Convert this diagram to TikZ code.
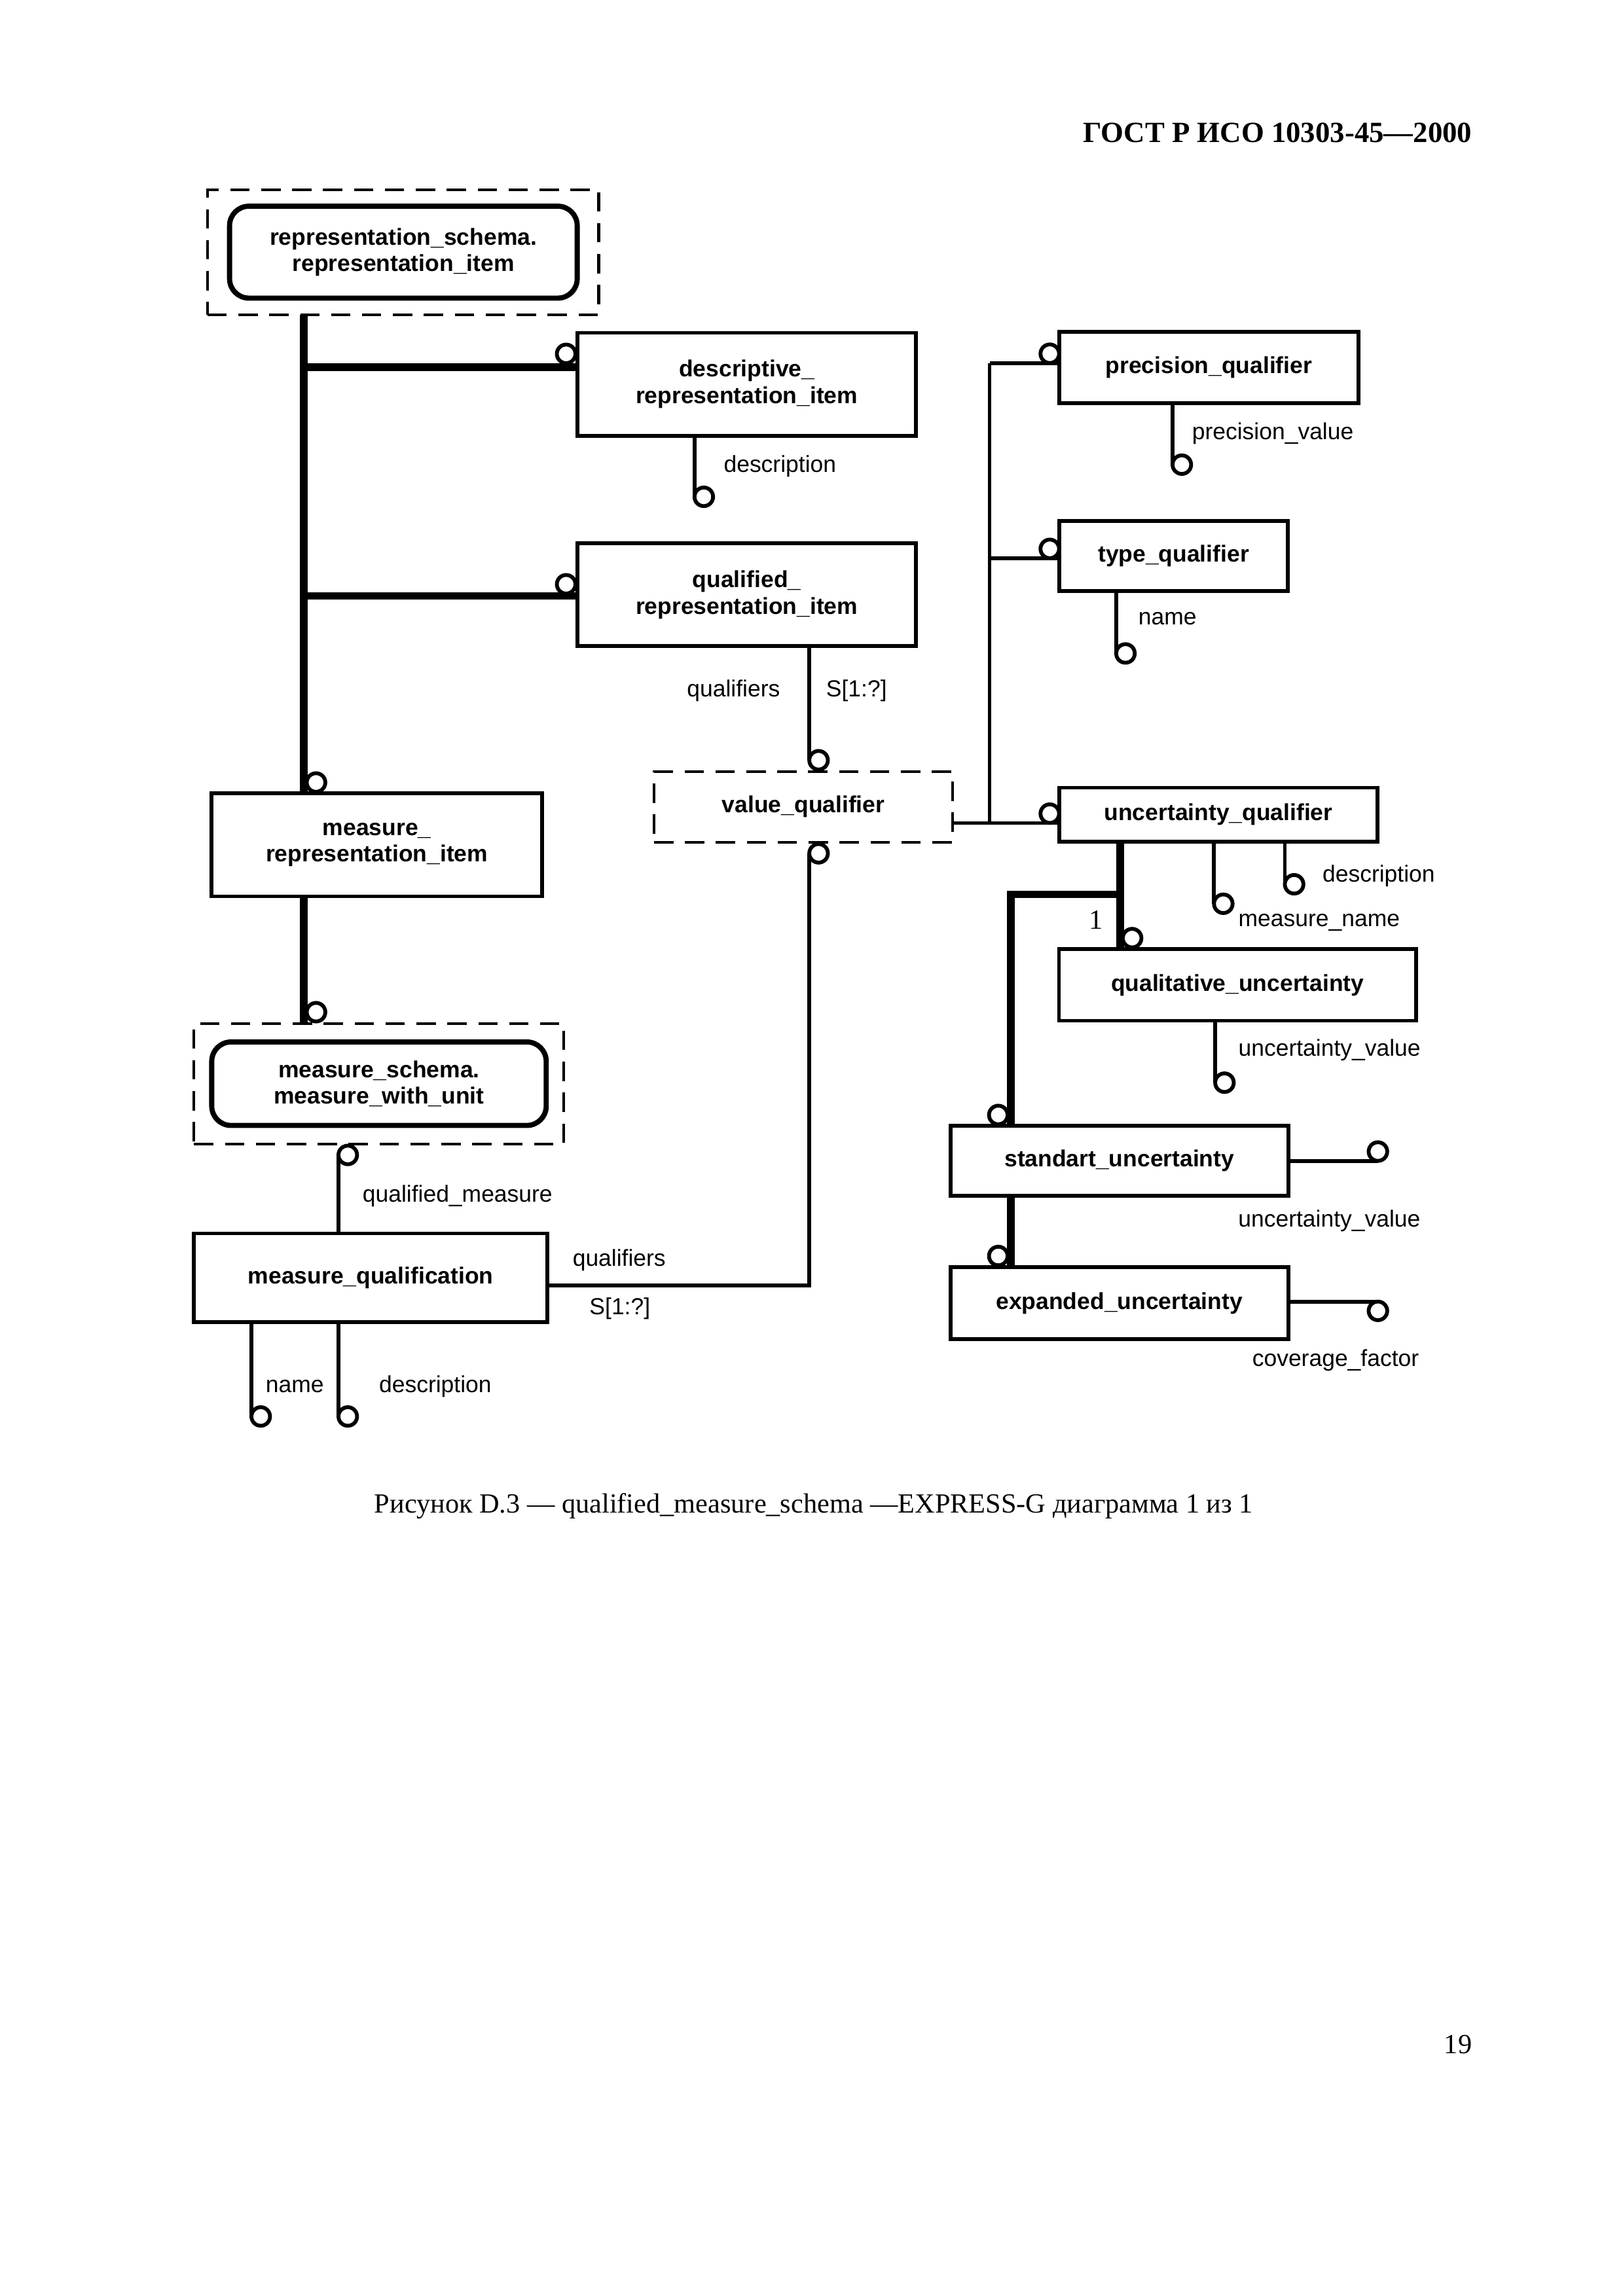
\documentclass[tikz,border=0pt]{standalone}
\usepackage{fontspec}
\setmainfont{Liberation Serif}
\newfontfamily\arialf{Liberation Sans}
\newlength\ulen
\setlength\ulen{0.190909mm}
\begin{document}
\begin{tikzpicture}[x=0.190909mm,y=-0.190909mm,
  ent/.style={draw, line width=1.4pt, inner sep=0pt, outer sep=0pt, align=center,
    font=\arialf\bfseries\fontsize{8.55}{9.8}\selectfont},
  refbox/.style={draw, line width=1pt, dash pattern=on 2.5mm off 1.5mm, inner sep=0pt, outer sep=0pt},
  rbox/.style={ent, rounded corners=2.5mm, line width=1.9pt},
  thin/.style={line width=1.4pt},
  thk/.style={line width=2.8pt},
  oc/.style={circle, draw, fill=white, line width=1.4pt, minimum size=12.6\ulen, inner sep=0pt, outer sep=0pt},
  attr/.style={font=\arialf\fontsize{8.55}{9.8}\selectfont, inner sep=0pt, anchor=mid west},
]
\path[use as bounding box, fill=white] (0,0) rectangle (1100,1556.6);

% header, caption, page number
\node[font=\bfseries\fontsize{10.8}{13}\selectfont, anchor=base east, inner sep=0pt] (hdr) at (998,96.5) {ГОСТ Р ИСО 10303-45—2000};
\node[font=\fontsize{10.2}{12}\selectfont, anchor=base, inner sep=0pt] (cap) at (551.5,1025.5) {Рисунок D.3 — qualified\_measure\_schema —EXPRESS-G диаграмма 1 из 1};
\node[font=\fontsize{10.2}{12}\selectfont, anchor=base east, inner sep=0pt] (pg) at (998,1392) {19};

% entities
\node[refbox, minimum width=265.2\ulen, minimum height=84.9\ulen] (rsd) at (273.2,170.95) {};
\node[rbox, minimum width=235.6\ulen, minimum height=62.3\ulen] (rsi) at (273.4,170.95) {representation\_schema.\\representation\_item};
\node[ent, minimum width=229.3\ulen, minimum height=69.8\ulen] (dri) at (506.15,260.5) {descriptive\_\\representation\_item};
\node[ent, minimum width=229.3\ulen, minimum height=69.7\ulen] (qri) at (506.15,403.15) {qualified\_\\representation\_item};
\node[refbox, ent, line width=1pt, dash pattern=on 2.5mm off 1.5mm, minimum width=202.4\ulen, minimum height=48\ulen] (vq) at (544.5,547) {value\_qualifier};
\node[ent, minimum width=223.9\ulen, minimum height=70\ulen] (mri) at (255.45,572.7) {measure\_\\representation\_item};
\node[refbox, minimum width=250.7\ulen, minimum height=81.5\ulen] (mwd) at (256.85,734.75) {};
\node[rbox, minimum width=226.7\ulen, minimum height=56.6\ulen] (mwu) at (256.85,734.7) {measure\_schema.\\measure\_with\_unit};
\node[ent, minimum width=239.5\ulen, minimum height=60\ulen] (mq) at (251.25,866.2) {measure\_qualification};
\node[ent, minimum width=202.6\ulen, minimum height=48.3\ulen] (pq) at (819.3,249.15) {precision\_qualifier};
\node[ent, minimum width=154.8\ulen, minimum height=47.6\ulen] (tq) at (795.4,376.9) {type\_qualifier};
\node[ent, minimum width=215.6\ulen, minimum height=36.7\ulen] (uq) at (825.8,552.35) {uncertainty\_qualifier};
\node[ent, minimum width=242.1\ulen, minimum height=48.5\ulen] (qu) at (838.75,667.75) {qualitative\_uncertainty};
\node[ent, minimum width=228.9\ulen, minimum height=47.4\ulen] (su) at (758.65,787) {standart\_uncertainty};
\node[ent, minimum width=228.9\ulen, minimum height=49\ulen] (eu) at (758.65,883.5) {expanded\_uncertainty};

% junction / end coordinates
\coordinate (j1) at (206,248.9);
\coordinate (j2) at (206,404);
\coordinate (k1) at (759.3,606.4);
\coordinate (k2) at (685,606.4);
\coordinate (v1) at (670.7,246.2);
\coordinate (v2) at (670.7,378.5);
\coordinate (v3) at (670.7,558);
\coordinate (q0) at (548.5,515.4);
\coordinate (q1) at (548.5,578.5);
\coordinate (q2) at (548.5,871.4);
\coordinate (a1) at (470.7,336.8);
\coordinate (m1) at (229.4,783);
\coordinate (m2) at (170.4,960.3);
\coordinate (m3) at (229.4,960.3);
\coordinate (p1) at (794.7,315);
\coordinate (t1) at (756.5,443);
\coordinate (u1) at (822.8,612.7);
\coordinate (u2) at (870.8,599.5);
\coordinate (u3) at (823.6,734);
\coordinate (s1) at (933.9,787);
\coordinate (e1) at (933.9,882.4);

% thick subtype lines
\draw[thk] (rsd.south -| j1) -- (mri.north -| j1);
\draw[thk] (j1) -- (dri.west |- j1);
\draw[thk] (j2) -- (qri.west |- j2);
\draw[thk] (mri.south -| j1) -- (mwd.north -| j1);
\draw[thk] (uq.south -| k1) -- (qu.north -| k1);
\draw[thk] (k1) -- (k2) -- (su.north -| k2);
\draw[thk] (su.south -| k2) -- (eu.north -| k2);

% thin attribute / select lines
\draw[thin] (dri.south -| a1) -- (a1);
\draw[thin] (qri.south -| q0) -- (q0);
\draw[thin] (q1) -- (q2) -- (mq.east |- q2);
\draw[thin] (mq.north -| m1) -- (m1);
\draw[thin] (mq.south -| m2) -- (m2);
\draw[thin] (mq.south -| m3) -- (m3);
\draw[thin] (vq.east |- v3) -- (uq.west |- v3);
\draw[thin] (v1) -- (v3);
\draw[thin] (v1) -- (pq.west |- v1);
\draw[thin] (v2) -- (tq.west |- v2);
\draw[thin] (pq.south -| p1) -- (p1);
\draw[thin] (tq.south -| t1) -- (t1);
\draw[thin] (uq.south -| u1) -- (u1);
\draw[thin] (uq.south -| u2) -- (u2);
\draw[thin] (qu.south -| u3) -- (u3);
\draw[thin] (su.east |- s1) -- (s1);
\draw[thin] (eu.east |- e1) -- (e1);

% circles
\node[oc] (c1) at (383.7,239.9) {};
\node[oc] (c2) at (383.7,396.1) {};
\node[oc] (c3) at (214.2,530.5) {};
\node[oc] (c4) at (214.2,686.2) {};
\node[oc] (c5) at (767.3,636) {};
\node[oc] (c6) at (676.6,755.9) {};
\node[oc] (c7) at (676.6,851.5) {};
\node[oc] (c8) at (711.5,239.8) {};
\node[oc] (c9) at (711.5,372.1) {};
\node[oc] (c10) at (711.5,551.6) {};
\node[oc, anchor=west] (c11) at (a1) {};
\node[oc, anchor=west] (c12) at (q0) {};
\node[oc, anchor=west] (c13) at (q1) {};
\node[oc, anchor=west] (c14) at (m1) {};
\node[oc, anchor=west] (c15) at (m2) {};
\node[oc, anchor=west] (c16) at (m3) {};
\node[oc, anchor=west] (c17) at (p1) {};
\node[oc, anchor=west] (c18) at (t1) {};
\node[oc, anchor=west] (c19) at (u1) {};
\node[oc, anchor=west] (c20) at (u2) {};
\node[oc, anchor=west] (c21) at (u3) {};
\node[oc, anchor=south] (c22) at (s1) {};
\node[oc, anchor=north] (c23) at (e1) {};

% labels
\node[attr] (l1) at (490.2,315.7) {description};
\node[attr, anchor=mid east] (l2) at (529,468) {qualifiers};
\node[attr] (l3) at (559.6,468) {S[1:?]};
\node[attr] (l4) at (245.4,810.7) {qualified\_measure};
\node[attr] (l5) at (387.8,854.2) {qualifiers};
\node[attr] (l6) at (399.2,887) {S[1:?]};
\node[attr] (l7) at (179.7,939.8) {name};
\node[attr] (l8) at (256.6,940) {description};
\node[attr] (l9) at (807.6,293.8) {precision\_value};
\node[attr] (l10) at (771.2,419.3) {name};
\node[attr] (l11) at (896,593.5) {description};
\node[attr] (l12) at (839,623.7) {measure\_name};
\node[attr] (l13) at (839,711.5) {uncertainty\_value};
\node[attr] (l14) at (838.9,827.7) {uncertainty\_value};
\node[attr] (l15) at (848.4,922) {coverage\_factor};
\node[font=\fontsize{10.2}{12}\selectfont, inner sep=0pt] (one) at (742.7,623.5) {1};
\end{tikzpicture}
\end{document}
